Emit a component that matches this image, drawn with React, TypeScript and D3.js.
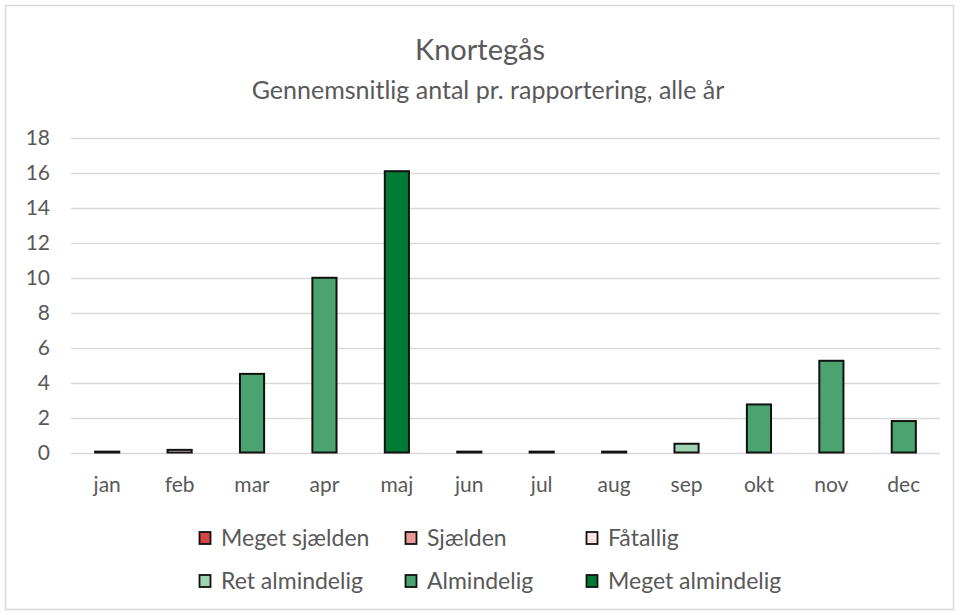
import React, { useRef, useEffect } from 'react';
import * as d3 from 'd3';

const months = ['jan', 'feb', 'mar', 'apr', 'maj', 'jun', 'jul', 'aug', 'sep', 'okt', 'nov', 'dec'];
const averages = [0.05, 0.15, 4.5, 10.0, 16.1, 0.05, 0.05, 0.05, 0.5, 2.75, 5.25, 1.8];
const monthClass = ['Fåtallig', 'Fåtallig', 'Almindelig', 'Almindelig', 'Meget almindelig', 'Fåtallig', 'Fåtallig', 'Fåtallig', 'Ret almindelig', 'Almindelig', 'Almindelig', 'Almindelig'];
const classes = ['Meget sjælden', 'Sjælden', 'Fåtallig', 'Ret almindelig', 'Almindelig', 'Meget almindelig'];
const classColors = ['#d64545', '#e89b9a', '#fbe4e4', '#9fd4b3', '#4ba46f', '#007a37'];
const yTicks = [0, 2, 4, 6, 8, 10, 12, 14, 16, 18];

const W = 957;
const H = 613;
const FONT = 'Lato, "Open Sans", sans-serif';

const App = () => {
  const svgRef = useRef<SVGSVGElement>(null);

  useEffect(() => {
    const svg = d3.select(svgRef.current);
    svg.selectAll('*').remove();

    const margin = { top: 138, right: 17, bottom: 160, left: 71 };
    const plotBottom = 452.5;

    const x = d3
      .scaleBand()
      .domain(months)
      .range([margin.left, W - margin.right])
      .paddingInner(2 / 3)
      .paddingOuter(1 / 3);

    const y = d3.scaleLinear().domain([0, 18]).range([plotBottom, margin.top]);
    const color = d3.scaleOrdinal<string, string>().domain(classes).range(classColors);

    // chart frame
    svg
      .append('rect')
      .attr('x', 5.5)
      .attr('y', 5.5)
      .attr('width', W - 9)
      .attr('height', H - 9)
      .attr('fill', '#fff')
      .attr('stroke', '#d9d9d9')
      .attr('stroke-width', 1.5);

    // titles
    svg
      .append('text')
      .attr('x', 480)
      .attr('y', 60)
      .attr('text-anchor', 'middle')
      .attr('font-family', FONT)
      .attr('font-size', 29)
      .attr('fill', '#595959')
      .text('Knortegås');

    svg
      .append('text')
      .attr('x', 488)
      .attr('y', 99)
      .attr('text-anchor', 'middle')
      .attr('font-family', FONT)
      .attr('font-size', 25)
      .attr('fill', '#595959')
      .text('Gennemsnitlig antal pr. rapportering, alle år');

    // grid
    svg
      .append('g')
      .selectAll('line')
      .data(yTicks)
      .join('line')
      .attr('x1', margin.left)
      .attr('x2', W - margin.right)
      .attr('y1', (d) => Math.round(y(d)) + 0.5)
      .attr('y2', (d) => Math.round(y(d)) + 0.5)
      .attr('stroke', '#d9d9d9')
      .attr('stroke-width', 1.5);

    // y labels
    svg
      .append('g')
      .selectAll('text')
      .data(yTicks)
      .join('text')
      .attr('x', 50)
      .attr('y', (d) => y(d))
      .attr('dy', '0.35em')
      .attr('text-anchor', 'end')
      .attr('font-family', FONT)
      .attr('font-size', 21)
      .attr('fill', '#595959')
      .text((d) => d);

    // x labels
    svg
      .append('g')
      .selectAll('text')
      .data(months)
      .join('text')
      .attr('x', (d) => (x(d) as number) + x.bandwidth() / 2)
      .attr('y', 492)
      .attr('text-anchor', 'middle')
      .attr('font-family', FONT)
      .attr('font-size', 21)
      .attr('fill', '#595959')
      .text((d) => d);

    // bars
    const rows = months.map((m, i) => ({ month: m, value: averages[i], cls: monthClass[i] }));
    svg
      .append('g')
      .selectAll('rect')
      .data(rows)
      .join('rect')
      .attr('x', (d) => x(d.month) as number)
      .attr('width', x.bandwidth())
      .attr('y', (d) => y(d.value))
      .attr('height', (d) => y(0) - y(d.value))
      .attr('fill', (d) => color(d.cls))
      .attr('stroke', '#111')
      .attr('stroke-width', 2);

    // legend
    const legendCols = [205, 411, 592];
    const legendRows = [538, 581];
    const legend = svg
      .append('g')
      .selectAll('g')
      .data(classes)
      .join('g')
      .attr('transform', (d, i) => `translate(${legendCols[i % 3]}, ${legendRows[Math.floor(i / 3)]})`);

    legend
      .append('rect')
      .attr('x', -5.5)
      .attr('y', -6)
      .attr('width', 11)
      .attr('height', 12)
      .attr('fill', (d) => color(d))
      .attr('stroke', '#111')
      .attr('stroke-width', 1.8);

    legend
      .append('text')
      .attr('x', 16)
      .attr('y', 0)
      .attr('dy', '0.35em')
      .attr('font-family', FONT)
      .attr('font-size', 23)
      .attr('fill', '#595959')
      .text((d) => d);
  }, []);

  return (
    <div style={{ position: 'absolute', left: 0, top: 0 }}>
      <svg ref={svgRef} width={W} height={H} />
    </div>
  );
};

export default App;
